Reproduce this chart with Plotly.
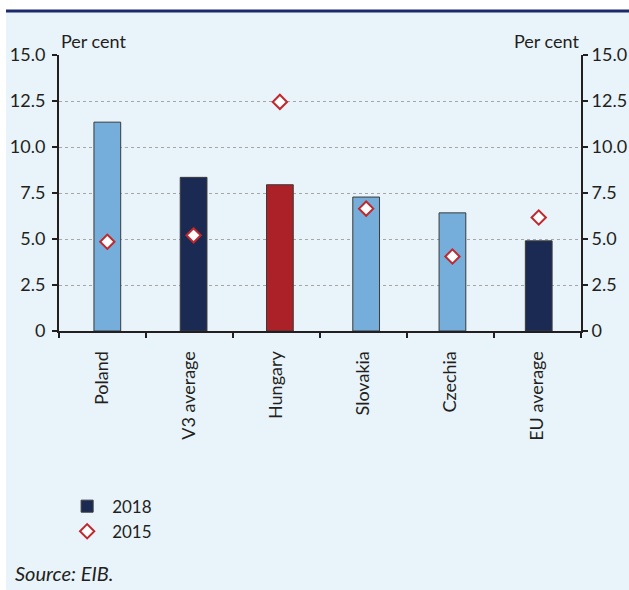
import plotly.graph_objects as go

categories = ["Poland", "V3 average", "Hungary", "Slovakia", "Czechia", "EU average"]
values_2018 = [11.35, 8.35, 7.95, 7.28, 6.42, 4.9]
values_2015 = [4.85, 5.2, 12.45, 6.65, 4.05, 6.17]
bar_colors = ["#75AEDA", "#1A2A52", "#AC2127", "#75AEDA", "#75AEDA", "#1A2A52"]
legend_bar_color = "#1A2A52"
tick_vals = [0, 2.5, 5.0, 7.5, 10.0, 12.5, 15.0]
tick_text = ["0", "2.5", "5.0", "7.5", "10.0", "12.5", "15.0"]

BG = "#E9F3FA"
FONT = "Lato"
TXT = "#231F20"

fig = go.Figure()
# invisible trace that carries the category axis (labels and boundary ticks)
fig.add_trace(go.Scatter(
    x=categories, y=[None] * len(categories), mode="markers",
    marker=dict(opacity=0), showlegend=False, hoverinfo="skip",
    xaxis="x", yaxis="y",
))
fig.add_trace(go.Bar(
    x=categories, y=values_2018, name="2018", showlegend=False,
    marker=dict(color=bar_colors, line=dict(color="#3A3A3A", width=1)),
    width=0.31, xaxis="x2",
))
# legend entry for the bars (navy swatch)
fig.add_trace(go.Bar(
    x=[None], y=[None], name="2018", showlegend=True,
    marker=dict(color=legend_bar_color, line=dict(color="#3A3A3A", width=1)),
    xaxis="x2",
))
fig.add_trace(go.Scatter(
    x=categories, y=values_2015, name="2015", mode="markers",
    marker=dict(symbol="diamond", size=11, color="white",
                line=dict(color="#C0282D", width=2)),
    xaxis="x2", yaxis="y2",
))

axis_common = dict(
    range=[0, 15], tickvals=tick_vals, ticktext=tick_text,
    ticks="outside", ticklen=5, tickwidth=2, tickcolor=TXT,
    showline=True, linecolor=TXT, linewidth=2,
    tickfont=dict(family=FONT, size=18, color=TXT),
    zeroline=False, automargin=False,
)

fig.update_layout(
    width=629, height=590,
    margin=dict(l=59, r=48, t=55, b=259),
    paper_bgcolor=BG, plot_bgcolor=BG,
    font=dict(family=FONT, color=TXT),
    barmode="overlay",
    xaxis=dict(
        type="category", categoryarray=categories, categoryorder="array",
        range=[-0.5, 5.5],
        showline=True, linecolor=TXT, linewidth=2,
        ticks="outside", ticklen=5, tickwidth=2, tickcolor=TXT,
        tickson="boundaries", tickangle=-90, ticklabelstandoff=11,
        tickfont=dict(family=FONT, size=18, color=TXT),
        showgrid=False, automargin=False, anchor="y",
    ),
    xaxis2=dict(
        type="category", categoryarray=categories, categoryorder="array",
        range=[-0.56, 5.49], overlaying="x", anchor="y",
        showticklabels=False, ticks="", showline=False, showgrid=False,
        automargin=False,
    ),
    yaxis=dict(
        **axis_common, ticklabelstandoff=3,
        showgrid=True, gridcolor="#A6A6A6", griddash="dot", gridwidth=1,
    ),
    yaxis2=dict(
        **axis_common,
        overlaying="y", side="right", showgrid=False,
    ),
    legend=dict(
        x=0.006, y=-0.571, xanchor="left", yanchor="top",
        bgcolor="rgba(0,0,0,0)",
        font=dict(family=FONT, size=17, color=TXT),
        tracegroupgap=0, itemwidth=40,
    ),
    showlegend=True,
    shapes=[
        dict(type="rect", xref="paper", yref="paper",
             x0=-0.12, x1=1.1, y0=1.163, y1=1.21,
             fillcolor="white", line=dict(width=0), layer="above"),
        dict(type="rect", xref="paper", yref="paper",
             x0=-0.12, x1=-0.1015, y0=-1.0, y1=1.21,
             fillcolor="white", line=dict(width=0), layer="above"),
        dict(type="line", xref="paper", yref="paper",
             x0=-0.1015, x1=1.1, y0=1.1595, y1=1.1595,
             line=dict(color="#1B2A6B", width=3), layer="above"),
    ],
    annotations=[
        dict(text="Per cent", xref="paper", yref="paper", x=0, y=1.051,
             xanchor="left", yanchor="middle", showarrow=False,
             font=dict(family=FONT, size=18, color=TXT)),
        dict(text="Per cent", xref="paper", yref="paper", x=1, y=1.051,
             xanchor="right", yanchor="middle", showarrow=False,
             font=dict(family=FONT, size=18, color=TXT)),
        dict(text="<i>Source: EIB.</i>", xref="paper", yref="paper",
             x=-0.088, y=-0.877, xanchor="left", yanchor="middle",
             showarrow=False, font=dict(family=FONT, size=20, color=TXT)),
    ],
)

fig.write_html(
    "out.html",
    config={"displayModeBar": False},
    post_script="document.body.style.margin='0';document.body.style.overflow='hidden';",
)
